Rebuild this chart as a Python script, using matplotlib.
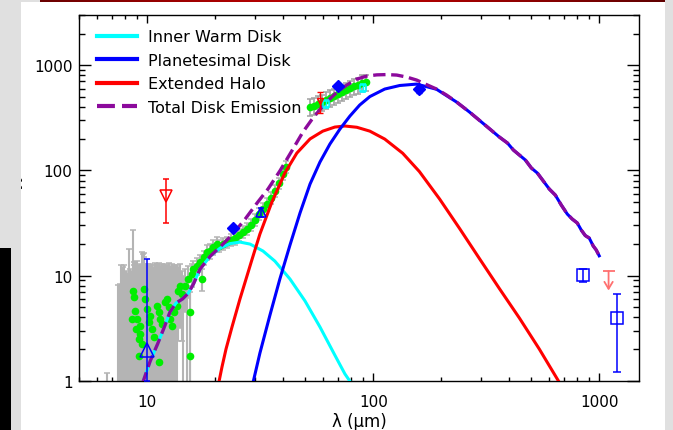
import numpy as np
import matplotlib
matplotlib.use("Agg")
import matplotlib.pyplot as plt
from matplotlib.patches import Rectangle
from matplotlib.lines import Line2D
from matplotlib.ticker import NullFormatter
from matplotlib.colors import LinearSegmentedColormap

plt.rcParams['font.family'] = ['DejaVu Sans']

# ---------------- model components (wavelength in micron, flux in mJy) ----------------
warm_wl = [9.50, 10.3, 11.1, 11.8, 12.6, 13.4, 14.3, 15.2, 16.0, 17.1, 19.0, 21.0, 23.2,
           25.7, 28.5, 32.5, 36.7, 42.8, 49.9, 58.1, 67.6, 74.9, 80.4]
warm_flux = [0.93, 1.54, 2.23, 3.10, 4.50, 5.48, 5.98, 6.82, 8.30, 11.5, 15.3, 18.2, 20.1,
             20.8, 19.9, 17.1, 13.7, 9.26, 5.72, 3.24, 1.75, 1.16, 0.93]

halo_wl = [20.4, 20.8, 21.4, 22.3, 23.7, 25.7, 29.0, 31.5, 35.6, 40.6, 45.9, 52.5, 59.8,
           67.6, 74.9, 84.6, 96.6, 112.4, 135, 160, 196.6, 241, 295, 361.5, 443.4, 543,
           659, 708]
halo_flux = [0.83, 1.0, 1.35, 2.0, 3.24, 5.98, 14.0, 24.8, 50.0, 94.2, 146, 199, 236,
             258, 264, 256.8, 235.9, 198.4, 145.4, 97.4, 53.4, 28.0, 14.5, 7.52, 3.94, 2.0,
             1.0, 0.78]

belt_wl = [29.1, 29.5, 31.5, 34.9, 38.6, 42.8, 47.4, 52.5, 58.1, 64.3, 71.2, 78.8, 87.1,
           96.6, 112.4, 131, 155.6, 190.6, 233.8, 266.8, 310.7, 361.5, 392.6, 417.2,
           443.4, 471.3, 501.0, 532.4, 565.9, 601.4, 639.3, 679.4, 722.3, 760, 799.4,
           832.6, 867.3, 903.3, 940.8, 969.9, 1000]
belt_flux = [0.87, 1.0, 1.83, 4.21, 9.26, 19.5, 39.3, 74.1, 120, 178, 247, 328, 418,
             503, 593, 641, 661, 590, 446, 358, 272.5, 207.4, 181.8, 156.0,
             139.8, 125.3, 105.2, 94.3, 79.1, 66.4, 58.2, 46.8, 38.4, 34.4, 31.6,
             27.1, 24.0, 22.7, 19.1, 17.5, 15.4]

total_wl = [9.50, 10.3, 11.1, 11.8, 12.6, 13.4, 14.3, 15.2, 16.0, 17.1, 19.0, 21.0, 23.7,
            27.1, 30.6, 34.2, 38.6, 43.6, 48.8, 53.5, 58.1, 63.0, 69.0, 76.4, 84.6, 93.6,
            103.6, 114.7, 127, 140.6, 155.6, 172.3, 190.6, 211.1, 233.8, 266.8, 310.7,
            361.5, 392.6, 417.2, 443.4, 471.3, 501.0, 532.4, 565.9, 601.4, 639.3, 679.4,
            722.3, 760, 799.4, 832.6, 867.3, 903.3, 940.8, 969.9, 1000]
total_flux = [0.93, 1.54, 2.23, 3.10, 4.50, 5.48, 5.98, 6.82, 8.30, 11.5, 15.3, 18.7, 24.3,
              34.4, 48.9, 66.4, 98.6, 153, 231, 304.7, 379.2, 459.6, 552.7, 646.9, 737.9,
              787.9, 808.8, 814.1, 805.3, 770.9, 721.8, 652.7, 593, 519.6, 446, 358, 272.5,
              207.4, 181.8, 156.0, 139.8, 125.3, 105.2, 94.3, 79.1, 66.4, 58.2, 46.8,
              38.4, 34.4, 31.6, 27.1, 24.0, 22.7, 19.1, 17.5, 15.4]

# ---------------- mid-infrared spectrum ----------------
spec_wl = [6.66, 7.45, 7.56, 7.68, 7.79, 7.91, 8.04, 8.16, 8.27, 8.39, 8.50, 8.56, 8.61,
           8.70, 8.76, 8.85, 8.88, 9.01, 9.08, 9.15, 9.18, 9.25, 9.31, 9.48, 9.55, 9.63,
           9.70, 9.80, 9.97, 10.05, 10.13, 10.31, 10.49, 10.52, 10.66, 10.85, 11.04,
           11.22, 11.25, 11.41, 11.61, 11.77, 12.01, 12.22, 12.42, 12.63, 12.85, 13.06,
           13.30, 13.52, 13.74, 13.99, 14.23, 14.42, 14.72, 14.94, 15.21, 15.48, 15.52,
           15.75, 16.01, 16.57, 17.13, 17.44, 17.73, 18.35, 18.98, 19.62, 20.31,
           20.79, 21.65, 22.55, 23.49, 24.46, 25.48, 26.54, 27.64, 28.79, 29.99, 31.23,
           32.52, 33.87, 35.28, 36.74, 38.27, 39.85, 41.09]
spec_flux = [0.60, 0.50, 0.70, 0.40, 0.80, 0.60, 0.50, 0.90, 0.70, 0.60, 0.80, 3.86, 7.17,
             6.21, 0.70, 4.63, 3.10, 3.86, 0.50, 2.49, 1.73, 3.33, 2.78, 2.23, 0.80, 7.44,
             0.60, 5.98, 4.80, 0.70, 3.59, 4.15, 3.10, 0.60, 2.59, 0.80, 5.16,
             4.47, 1.50, 3.86, 3.46, 0.70, 5.56, 5.98, 4.99, 3.86, 3.33, 4.47,
             0.60, 5.16, 7.17, 8.00, 6.67, 0.70, 8.00, 0.80, 9.26, 4.47, 1.73,
             10.33, 11.53, 12.40, 13.35, 9.26, 14.89, 16.61, 17.21, 18.54, 19.93,
             19.1, 19.9, 20.8, 21.8, 22.7, 24.3, 25.9, 27.7, 30.2, 33.7, 38.4,
             42.9, 47.8, 54.6, 63.6, 75.7, 92.2, 107.5]
spec_err = [0.58, 7.6, 7.6, 12.2, 11.2, 12.0, 10.5, 9.6, 17.0, 10.9, 10.0, 7.1, 20.1,
            6.3, 12.8, 8.9, 7.4, 9.8, 12.0, 9.0, 7.8, 8.7, 10.2, 14.5, 15.2, 9.1,
            14.4, 7.0, 7.8, 12.3, 8.4, 8.6, 9.5, 11.9, 9.4, 12.4, 7.6,
            8.7, 10.0, 8.5, 9.3, 11.9, 7.4, 6.6, 8.2, 8.5, 9.5, 8.1,
            11.8, 7.4, 4.8, 4.8, 4.3, 9.3, 3.5, 8.2, 3.1, 3.5, 5.3,
            2.6, 2.3, 2.2, 2.45, 2.2, 2.4, 2.7, 2.8, 3.0, 3.1,
            2.5, 2.6, 2.7, 2.8, 3.0, 3.2, 3.4, 3.6, 3.9, 4.4, 5.0,
            5.6, 6.2, 7.1, 8.3, 9.8, 12.0, 14.0]

# ---------------- far-infrared spectrum ----------------
fir_wl = [52.5, 54.6, 56.9, 59.3, 61.7, 64.3, 66.9, 69.7, 72.6, 75.6, 78.8, 82.0, 85.4,
          89.0, 92.7]
fir_flux = [400, 409, 427, 446, 466, 487, 508, 531, 555, 580, 606, 633, 647, 676, 691]
fir_err = [72, 74, 77, 80, 84, 88, 91, 96, 100, 104, 109, 114, 116, 122, 124]

# ---------------- photometry ----------------
mips_wl = [24, 70, 160]
mips_flux = [28.3, 629, 593]
mips_err = [1.2, 25, 45]

tri_wl = [10, 32]
tri_flux = [1.97, 39.9]
tri_err_lo = [0.97, 3.6]
tri_err_hi = [12.4, 3.6]

submm_wl = [850, 1200]
submm_flux = [10.1, 3.92]
submm_err = [1.5, 2.7]

iso_wl = [62, 90]
iso_flux = [430, 606]
iso_err = [40, 55]

limit_wl = [12.1, 58]
limit_flux = [57.4, 455]
limit_err = [26, 105]

mm_limit_wl = [1100]
mm_limit_top = [11.0]
mm_limit_tip = [7.2]

x_ticks = [10, 100, 1000]
x_tick_labels = ['10', '100', '1000']
y_ticks = [1, 10, 100, 1000]
y_tick_labels = ['1', '10', '100', '1000']

legend_labels = ['Inner Warm Disk', 'Planetesimal Disk', 'Extended Halo', 'Total Disk Emission']

# ---------------- colours ----------------
C_WARM = '#00ffff'
C_BELT = '#0000ff'
C_HALO = '#ff0000'
C_TOTAL = '#8c0a9c'
C_DATA = '#00ee00'
C_ERR = '#b4b4b4'

W, H = 673, 431


def fx(px):
    return px / W


def fy(py):
    return 1 - py / H


fig = plt.figure(figsize=(W / 100, H / 100), dpi=100, facecolor='#e0e0e0')

# white slide panel behind the plot
fig.add_artist(Rectangle((fx(21), 0), fx(665) - fx(21), fy(3), transform=fig.transFigure,
                         facecolor='white', edgecolor='none', zorder=-5))

ax = fig.add_axes([fx(79.3), fy(381.7), (639 - 79.3) / W, (381.7 - 16) / H])
ax.set_facecolor('white')
ax.set_xscale('log')
ax.set_yscale('log')

# spectra: grey error bars with green points
ax.errorbar(spec_wl, spec_flux, yerr=spec_err, fmt='none', ecolor=C_ERR, elinewidth=1.5,
            capsize=2, capthick=1.1, zorder=2)
ax.plot(spec_wl, spec_flux, 'o', color=C_DATA, ms=5.5, mec='none', zorder=3)
ax.errorbar(fir_wl, fir_flux, yerr=fir_err, fmt='none', ecolor='#a0a0a0', elinewidth=1.2,
            capsize=2.5, capthick=1.1, zorder=2)
ax.plot(fir_wl, fir_flux, 'o', color=C_DATA, ms=5.5, mec='none', zorder=3)

# model components
lw = 2.2
ax.plot(warm_wl, warm_flux, color=C_WARM, lw=lw, zorder=4)
ax.plot(halo_wl, halo_flux, color=C_HALO, lw=lw, zorder=4)
ax.plot(belt_wl, belt_flux, color=C_BELT, lw=lw, zorder=4)
ax.plot(total_wl, total_flux, color=C_TOTAL, lw=2.4, linestyle=(0, (3.7, 1.7)), zorder=5)

# photometry
ax.errorbar(mips_wl, mips_flux, yerr=mips_err, fmt='D', color=C_BELT, ms=6.5,
            elinewidth=1.0, capsize=2, zorder=7)
ax.errorbar(tri_wl[:1], tri_flux[:1], yerr=[tri_err_lo[:1], tri_err_hi[:1]], fmt='^',
            mfc='none', mec=C_BELT, ms=9.5, mew=1.1, ecolor=C_BELT, elinewidth=1.1,
            capsize=2.5, zorder=7)
ax.errorbar(tri_wl[1:], tri_flux[1:], yerr=[tri_err_lo[1:], tri_err_hi[1:]], fmt='^',
            mfc='none', mec=C_BELT, ms=7, mew=1.1, ecolor=C_BELT, elinewidth=1.1,
            capsize=2.5, zorder=7)
ax.errorbar(submm_wl, submm_flux, yerr=submm_err, fmt='s', mfc='none', mec=C_BELT,
            ms=8.5, mew=1.1, ecolor=C_BELT, elinewidth=1.1, capsize=3, zorder=7)
ax.errorbar(iso_wl, iso_flux, yerr=iso_err, fmt='s', mfc='none', mec=C_WARM, ms=5,
            mew=1.1, ecolor=C_WARM, elinewidth=1.0, capsize=2, zorder=7)
ax.errorbar(limit_wl[:1], limit_flux[:1], yerr=limit_err[:1], fmt='v', mfc='none',
            mec=C_HALO, ms=9, mew=1.1, ecolor=C_HALO, elinewidth=1.1, capsize=2.5, zorder=7)
ax.errorbar(limit_wl[1:], limit_flux[1:], yerr=limit_err[1:], fmt='v', mfc='none',
            mec=C_HALO, ms=5, mew=1.0, ecolor=C_HALO, elinewidth=1.0, capsize=2.5, zorder=7)

# millimetre upper limit
for wl, top, tip in zip(mm_limit_wl, mm_limit_top, mm_limit_tip):
    ax.plot([wl], [top], marker='_', ms=9, mew=1.3, color='#ff7070', zorder=7)
    ax.annotate('', xy=(wl, tip), xytext=(wl, top),
                arrowprops=dict(arrowstyle='->,head_length=0.5,head_width=0.3',
                                color='#ff7070', lw=1.3, shrinkA=0, shrinkB=0), zorder=7)

# axes, ticks
ax.set_xlim(5, 1500)
ax.set_ylim(1, 3000)
ax.set_xticks(x_ticks, labels=x_tick_labels)
ax.set_yticks(y_ticks, labels=y_tick_labels)
ax.xaxis.set_minor_formatter(NullFormatter())
ax.yaxis.set_minor_formatter(NullFormatter())
ax.tick_params(which='both', direction='in', top=True, right=True, labelsize=11,
               colors='black')
ax.tick_params(axis='x', which='major', length=5.8, width=1.0, pad=9.5)
ax.tick_params(axis='x', which='minor', length=3.2, width=1.0)
ax.tick_params(axis='y', which='major', length=8.6, width=1.0, pad=4.8)
ax.tick_params(axis='y', which='minor', length=4.5, width=1.0)
for sp in ax.spines.values():
    sp.set_linewidth(1.0)

ax.set_xlabel('λ (μm)', fontsize=12, labelpad=2)
ax.set_ylabel(r'F$_\nu$ (mJy)', fontsize=12)
ax.yaxis.set_label_coords(-0.097, 0.5)

handles = [Line2D([], [], color=C_WARM, lw=3),
           Line2D([], [], color=C_BELT, lw=3),
           Line2D([], [], color=C_HALO, lw=3),
           Line2D([], [], color=C_TOTAL, lw=3, linestyle=(0, (4.3, 1.7)))]
ax.legend(handles, legend_labels, loc='upper left', bbox_to_anchor=(0.0316, 0.961),
          frameon=False, borderpad=0, borderaxespad=0, handlelength=2.5,
          handletextpad=0.69, labelspacing=0.53, fontsize=11.5)

# slide furniture: grey margin, black block, red title bar
fig.add_artist(Rectangle((0, 0), fx(21), 1, transform=fig.transFigure,
                         facecolor='#e0e0e0', edgecolor='none', zorder=10))
fig.add_artist(Rectangle((0, 0), fx(11), fy(249), transform=fig.transFigure,
                         facecolor='black', edgecolor='none', zorder=11))
bar_ax = fig.add_axes([fx(40), fy(3), fx(665) - fx(40), 3 / H], zorder=12)
bar_cmap = LinearSegmentedColormap.from_list(
    'bar', ['#6a0000', '#9a0000', '#bb0000', '#b00000', '#8a0000', '#600000'])
bar_ax.imshow(np.linspace(0, 1, 256)[None, :], aspect='auto', cmap=bar_cmap)
bar_ax.axis('off')

fig.savefig('out.png', dpi=100, facecolor=fig.get_facecolor())
